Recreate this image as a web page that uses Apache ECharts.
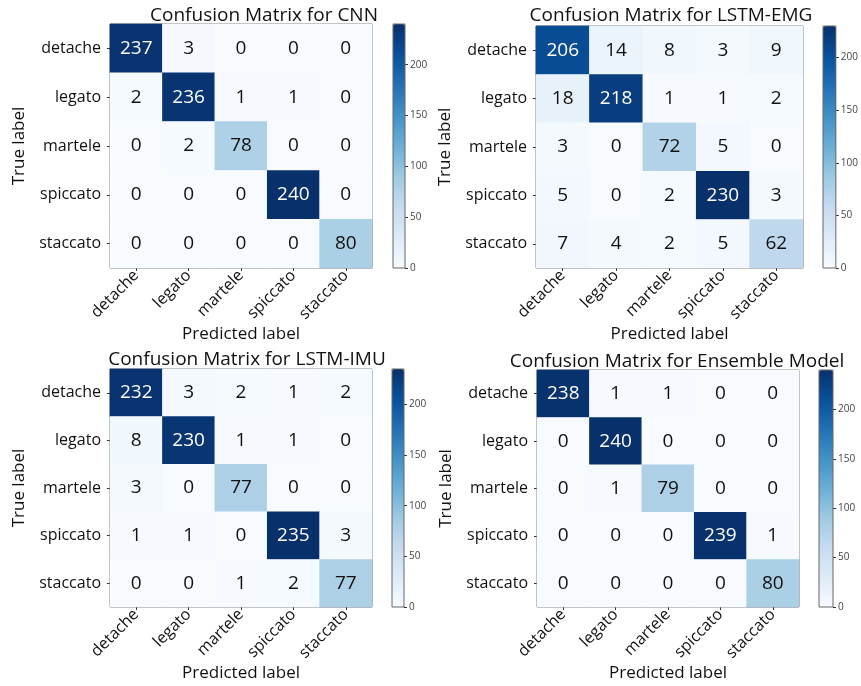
<!DOCTYPE html>
<html>
<head>
<meta charset="utf-8">
<script src="https://cdn.jsdelivr.net/npm/echarts@6/dist/echarts.min.js"></script>
<style>
  html, body { margin: 0; padding: 0; background: #fff; }
  #chart { width: 861px; height: 686px; }
</style>
</head>
<body>
<div id="chart"></div>
<script>
// Bowing-technique classes (rows = true, columns = predicted)
const classes = ['detache', 'legato', 'martele', 'spiccato', 'staccato'];

const cnnMatrix = [
  [237, 3, 0, 0, 0],
  [2, 236, 1, 1, 0],
  [0, 2, 78, 0, 0],
  [0, 0, 0, 240, 0],
  [0, 0, 0, 0, 80]
];
const lstmEmgMatrix = [
  [206, 14, 8, 3, 9],
  [18, 218, 1, 1, 2],
  [3, 0, 72, 5, 0],
  [5, 0, 2, 230, 3],
  [7, 4, 2, 5, 62]
];
const lstmImuMatrix = [
  [232, 3, 2, 1, 2],
  [8, 230, 1, 1, 0],
  [3, 0, 77, 0, 0],
  [1, 1, 0, 235, 3],
  [0, 0, 1, 2, 77]
];
const ensembleMatrix = [
  [238, 1, 1, 0, 0],
  [0, 240, 0, 0, 0],
  [0, 1, 79, 0, 0],
  [0, 0, 0, 239, 1],
  [0, 0, 0, 0, 80]
];
const modelTitles = [
  'Confusion Matrix for CNN',
  'Confusion Matrix for LSTM-EMG',
  'Confusion Matrix for LSTM-IMU',
  'Confusion Matrix for Ensemble Model'
];
const colorbarTicks = [0, 50, 100, 150, 200];

const matrices = [cnnMatrix, lstmEmgMatrix, lstmImuMatrix, ensembleMatrix];

// matplotlib "Blues" colormap stops
const blues = ['#f7fbff', '#deebf7', '#c6dbef', '#9ecae1', '#6baed6',
               '#4292c6', '#2171b5', '#08519c', '#08306b'];

const FONT = 'Open Sans';

// Panel geometry: heatmap box, colorbar box, title centre
const panels = [
  { plot: [110, 24, 262, 244], bar: [393, 24, 12, 244], title: [259, 1] },
  { plot: [536, 26, 267, 242], bar: [823, 26, 13, 242], title: [666, 1] },
  { plot: [110, 369, 262, 238], bar: [392, 369, 12, 238], title: [242, 345] },
  { plot: [537, 370, 262, 237], bar: [819, 370, 14, 237], title: [672, 347] }
];

const option = {
  backgroundColor: '#ffffff',
  animation: false,
  textStyle: { fontFamily: FONT },
  title: [], grid: [], xAxis: [], yAxis: [], visualMap: [], series: []
};

matrices.forEach(function (m, i) {
  const p = panels[i];
  let vmax = 0;
  m.forEach(function (row) { row.forEach(function (v) { vmax = Math.max(vmax, v); }); });

  option.title.push({
    text: modelTitles[i],
    left: p.title[0], top: p.title[1], textAlign: 'center',
    textStyle: { fontFamily: FONT, fontSize: 19, fontWeight: 'normal', color: '#111' }
  });

  // heatmap grid
  option.grid.push({
    left: p.plot[0], top: p.plot[1], width: p.plot[2], height: p.plot[3],
    show: true, borderColor: '#666', borderWidth: 1, backgroundColor: 'transparent'
  });
  // colorbar grid (frame + tick axis)
  option.grid.push({
    left: p.bar[0], top: p.bar[1], width: p.bar[2], height: p.bar[3],
    show: true, borderColor: '#666', borderWidth: 1, backgroundColor: 'transparent', z: 5
  });

  option.xAxis.push({
    type: 'category', gridIndex: 2 * i, data: classes, position: 'bottom',
    name: 'Predicted label', nameLocation: 'middle', nameGap: 56,
    nameTextStyle: { fontFamily: FONT, fontSize: 17, color: '#111' },
    axisLine: { show: false },
    axisTick: { show: true, alignWithLabel: true, length: 3, lineStyle: { color: '#333' } },
    axisLabel: { rotate: 45, fontFamily: FONT, fontSize: 16, color: '#111', margin: 5 },
    splitLine: { show: false }
  });
  option.xAxis.push({
    type: 'category', gridIndex: 2 * i + 1, data: [''], show: false
  });

  option.yAxis.push({
    type: 'category', gridIndex: 2 * i, data: classes, inverse: true,
    name: 'True label', nameLocation: 'middle', nameGap: 82, nameRotate: 90,
    nameTextStyle: { fontFamily: FONT, fontSize: 17, color: '#111' },
    axisLine: { show: false },
    axisTick: { show: true, alignWithLabel: true, length: 3, lineStyle: { color: '#333' } },
    axisLabel: { fontFamily: FONT, fontSize: 16, color: '#111', margin: 9 },
    splitLine: { show: false }
  });
  option.yAxis.push({
    type: 'value', gridIndex: 2 * i + 1, min: 0, max: vmax, position: 'right',
    axisLine: { show: false },
    axisTick: { show: true, length: 3, customValues: colorbarTicks, lineStyle: { color: '#333' } },
    axisLabel: { fontFamily: FONT, fontSize: 10, color: '#444', margin: 5, customValues: colorbarTicks },
    splitLine: { show: false }
  });

  option.visualMap.push({
    type: 'continuous', seriesIndex: i, min: 0, max: vmax,
    calculable: false, hoverLink: false, realtime: false,
    left: p.bar[0], top: p.bar[1], itemWidth: p.bar[2], itemHeight: p.bar[3],
    padding: 0, text: null, showLabel: false,
    inRange: { color: blues }
  });

  // cell text switches to white on the darker half of the colour scale
  const data = [];
  m.forEach(function (row, r) {
    row.forEach(function (v, c) {
      data.push({
        value: [c, r, v],
        label: { color: v > vmax / 2 ? '#ffffff' : '#111111' }
      });
    });
  });

  option.series.push({
    type: 'heatmap', xAxisIndex: 2 * i, yAxisIndex: 2 * i, data: data,
    itemStyle: { borderWidth: 0 },
    label: { show: true, fontFamily: FONT, fontSize: 19, formatter: function (d) { return d.value[2]; } },
    emphasis: { disabled: true }
  });
});

const chart = echarts.init(document.getElementById('chart'), null, { renderer: 'canvas' });
chart.setOption(option);
</script>
</body>
</html>
